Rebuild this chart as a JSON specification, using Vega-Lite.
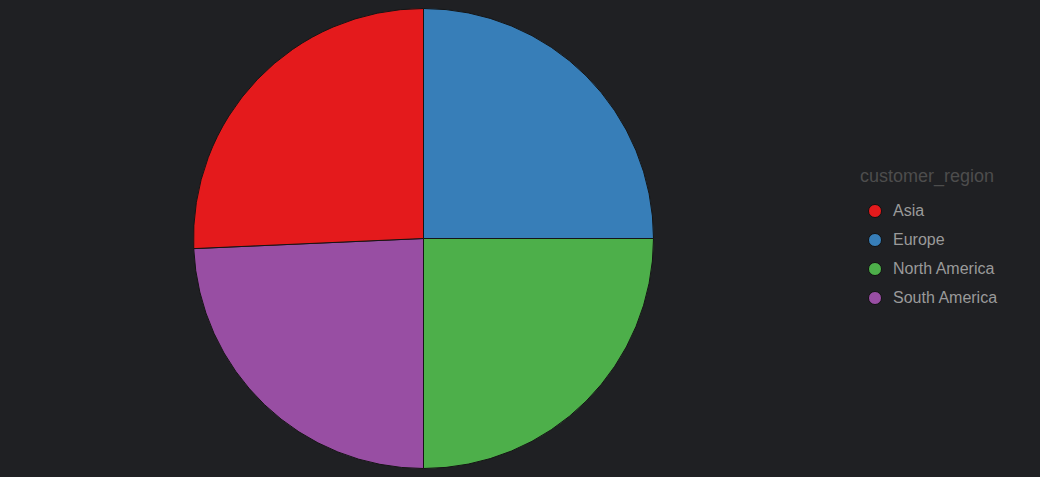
{
  "$schema": "https://vega.github.io/schema/vega-lite/v6.json",
  "width": 847,
  "height": 477,
  "padding": {"left": 0, "top": 0, "right": 193, "bottom": 0},
  "autosize": {"type": "none"},
  "background": "#1f2023",
  "config": {
    "view": {"stroke": null},
    "font": "Liberation Sans"
  },
  "data": {
    "values": [
      {"customer_region": "Europe", "value": 250, "rank": 1},
      {"customer_region": "North America", "value": 250, "rank": 2},
      {"customer_region": "South America", "value": 243, "rank": 3},
      {"customer_region": "Asia", "value": 257, "rank": 4}
    ]
  },
  "mark": {"type": "arc", "outerRadius": 230, "stroke": "#151515", "strokeWidth": 1},
  "encoding": {
    "theta": {"field": "value", "type": "quantitative", "stack": true},
    "order": {"field": "rank", "type": "quantitative"},
    "color": {
      "field": "customer_region",
      "type": "nominal",
      "scale": {"domain": ["Asia", "Europe", "North America", "South America"], "range": ["#e41a1c", "#377eb8", "#4daf4a", "#984ea3"]},
      "legend": {
        "orient": "none",
        "legendX": 860,
        "legendY": 168,
        "title": "customer_region",
        "titleColor": "#4d4d4d",
        "titleFontSize": 18,
        "titleFontWeight": "normal",
        "titlePadding": 17,
        "labelColor": "#9a9a9a",
        "labelFontSize": 16,
        "labelOffset": 10,
        "symbolType": "circle",
        "symbolSize": 170,
        "symbolStrokeColor": "#111111",
        "symbolStrokeWidth": 1,
        "symbolOffset": 7,
        "rowPadding": 11
      }
    }
  }
}
